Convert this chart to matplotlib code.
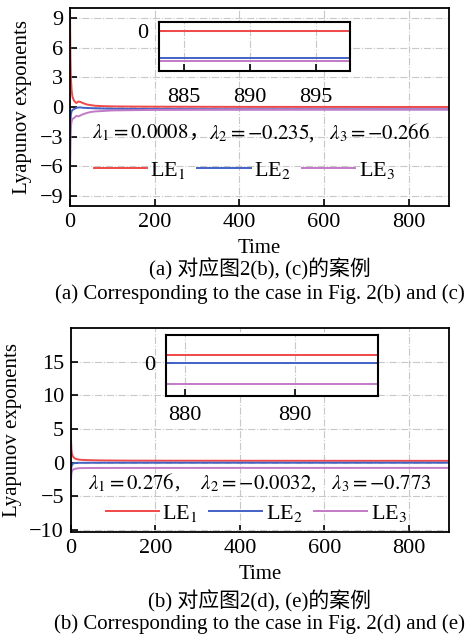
import matplotlib
matplotlib.use("Agg")
import matplotlib.pyplot as plt

plt.rcParams["font.family"] = ["Liberation Serif", "Noto Sans CJK SC"]
plt.rcParams["mathtext.fontset"] = "stix"
plt.rcParams["axes.unicode_minus"] = True

# ---- data ----
time_a = [0, 1, 2, 4, 6, 10, 15, 20, 25, 30, 40, 50, 60, 80, 100, 150, 200, 300, 400, 600, 800, 900]
le1_a = [9.6, 5.0, 3.0, 1.6, 1.0, 0.6, 0.4, 0.55, 0.5, 0.4, 0.25, 0.18, 0.12, 0.08, 0.06,
         0.04, 0.03, 0.02, 0.01, 0.005, 0.0008, 0.0008]
le2_a = [-6.0, -1.5, -0.8, -0.4, -0.3, -0.2, -0.1, -0.05, -0.05, -0.08, -0.1, -0.12, -0.14,
         -0.16, -0.18, -0.2, -0.21, -0.22, -0.23, -0.233, -0.235, -0.235]
le3_a = [-6.6, -3.0, -2.0, -1.4, -1.2, -1.1, -0.9, -0.95, -0.85, -0.75, -0.6, -0.5, -0.45,
         -0.4, -0.35, -0.32, -0.3, -0.29, -0.28, -0.27, -0.266, -0.266]

time_b = [0, 1, 2, 4, 6, 10, 15, 20, 25, 30, 40, 50, 60, 80, 100, 150, 200, 300, 400, 600, 800, 900]
le1_b = [3.4, 2.0, 1.4, 1.0, 0.8, 0.6, 0.5, 0.45, 0.42, 0.4, 0.38, 0.36, 0.35, 0.33, 0.32,
         0.3, 0.295, 0.29, 0.285, 0.28, 0.276, 0.276]
le2_b = [-1.5, -0.6, -0.4, -0.2, -0.1, -0.05, -0.03, -0.02, -0.02, -0.015, -0.012, -0.01,
         -0.009, -0.008, -0.007, -0.006, -0.005, -0.0045, -0.004, -0.0035, -0.0032, -0.0032]
le3_b = [-2.5, -1.6, -1.3, -1.1, -1.0, -0.9, -0.85, -0.82, -0.8, -0.8, -0.79, -0.79, -0.785,
         -0.785, -0.78, -0.78, -0.78, -0.778, -0.776, -0.775, -0.773, -0.773]

yticks_a = [-9, -6, -3, 0, 3, 6, 9]
yticks_b = [-10, -5, 0, 5, 10, 15]
xticks = [0, 200, 400, 600, 800]

# lambda texts: (first part, separator, rest)
lambda_text_a = (r"$\lambda_1 = 0.0008$", "，", r"$\lambda_2 = -0.235$,   $\lambda_3 = -0.266$")
lambda_text_b = (r"$\lambda_1 = 0.276$", ",", r"    $\lambda_2 = -0.0032$,   $\lambda_3 = -0.773$")
caption_cn_a = "(a) 对应图2(b), (c)的案例"
caption_en_a = "(a) Corresponding to the case in Fig. 2(b) and (c)"
caption_cn_b = "(b) 对应图2(d), (e)的案例"
caption_en_b = "(b) Corresponding to the case in Fig. 2(d) and (e)"

colors = ["#f04848", "#4262c6", "#c27ac6"]
labels = ["LE$_1$", "LE$_2$", "LE$_3$"]
fs = 15
fs_tick = 16


def style_axes(ax, lw=1.3):
    for s in ax.spines.values():
        s.set_linewidth(lw)
        s.set_color("black")
    ax.tick_params(direction="in", length=5, width=1.2, labelsize=fs_tick,
                   top=False, right=False, pad=5)
    ax.grid(True, linestyle="-.", color="#c8c8c8", linewidth=0.8)
    ax.set_axisbelow(True)


def draw_panel(fig, rect, inset_rect, t, series, ylim, yticks, inset_xlim,
               inset_ylim, inset_xticks, inset_pad, lam_text, lam_xy, leg_xy):
    ax = fig.add_axes(rect)
    for y, c, lab in zip(series, colors, labels):
        ax.plot(t, y, color=c, lw=1.4, label=lab)
    ax.set_xlim(0, 895)
    ax.set_ylim(*ylim)
    ax.set_xticks(xticks)
    ax.set_yticks(yticks)
    style_axes(ax)
    ax.set_xlabel("Time", fontsize=fs, labelpad=5)
    ax.set_ylabel("Lyapunov exponents", fontsize=fs, labelpad=5)

    first, sep, rest = lam_text
    t1 = ax.text(lam_xy[0], lam_xy[1], first, transform=ax.transAxes, fontsize=fs,
                 ha="left", va="center")
    sep_family = ["Noto Sans CJK SC"] if sep == "，" else ["Liberation Serif"]
    t2 = ax.annotate(sep, xy=(1, 0.5), xycoords=t1, fontsize=fs, ha="left",
                     va="center", family=sep_family)
    ax.annotate(rest, xy=(1, 0.5), xycoords=t2, fontsize=fs, ha="left", va="center")

    ax.legend(loc="center", bbox_to_anchor=leg_xy, ncol=3, frameon=False,
              fontsize=fs + 1, handlelength=2.4, columnspacing=0.5, handletextpad=0.15)

    ins = fig.add_axes(inset_rect)
    for y, c in zip(series, colors):
        ins.plot(t, y, color=c, lw=1.4)
    ins.set_xlim(*inset_xlim)
    ins.set_ylim(*inset_ylim)
    ins.set_xticks(inset_xticks)
    ins.set_yticks([0])
    style_axes(ins, lw=1.5)
    ins.tick_params(axis="x", pad=inset_pad)
    ins.tick_params(axis="y", pad=8)
    return ax


fig = plt.figure(figsize=(4.72, 6.39), dpi=100)

ax_a = draw_panel(fig, [0.1483, 0.6776, 0.803, 0.310], [0.3369, 0.8889, 0.4047, 0.0767],
                  time_a, [le1_a, le2_a, le3_a], (-10, 10), yticks_a,
                  (883.1, 897.6), (-0.35, 0.08), [885, 890, 895], 12,
                  lambda_text_a, (0.058, 0.37), (0.46, 0.18))

ax_b = draw_panel(fig, [0.1504, 0.1674, 0.801, 0.3193], [0.3517, 0.3803, 0.4492, 0.0955],
                  time_b, [le1_b, le2_b, le3_b], (-10.3, 20), yticks_b,
                  (878.3, 897.5), (-1.2, 1.0), [880, 890], 7,
                  lambda_text_b, (0.045, 0.24), (0.49, 0.093))

xc = 0.55
fig.text(xc, 1 - 269 / 639, caption_cn_a, fontsize=fs, ha="center", va="center")
fig.text(xc, 1 - 294 / 639, caption_en_a, fontsize=fs, ha="center", va="center")
fig.text(xc, 1 - 601 / 639, caption_cn_b, fontsize=fs, ha="center", va="center")
fig.text(xc, 1 - 624 / 639, caption_en_b, fontsize=fs, ha="center", va="center")

fig.savefig("out.png", dpi=100)
